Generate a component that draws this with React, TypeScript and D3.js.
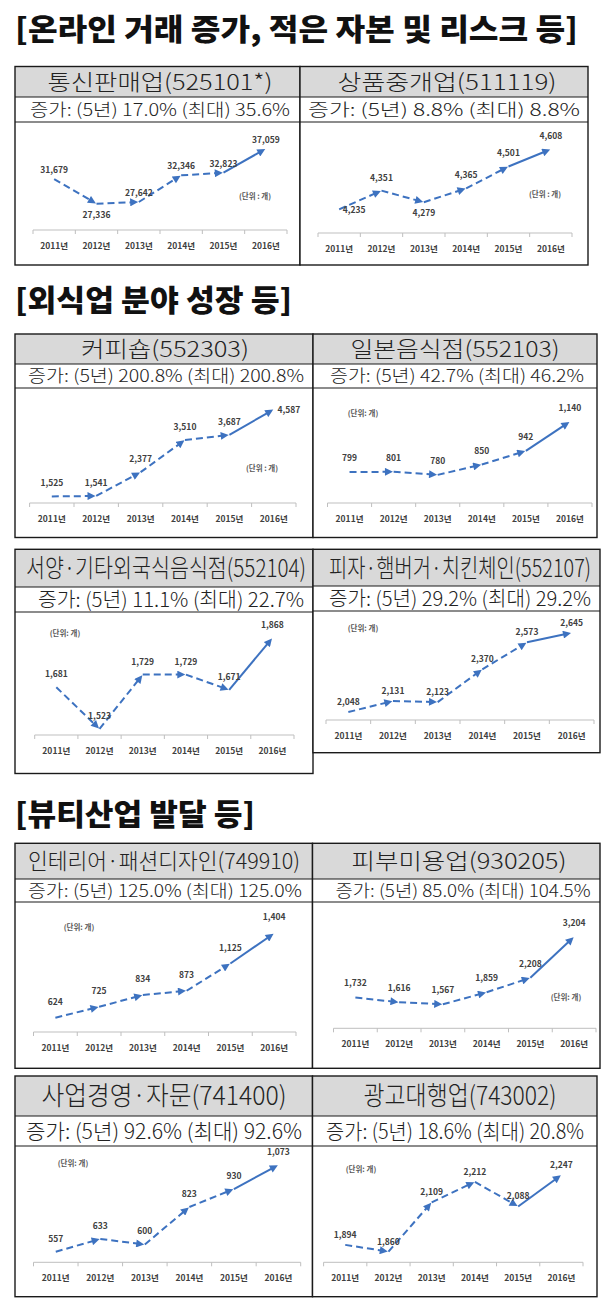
import * as d3 from "d3";

// 연도 (x축)
const years = ["2011년", "2012년", "2013년", "2014년", "2015년", "2016년"];

// 업종별 사업체 수 (단위: 개)
const mailOrder = [31679, 27336, 27642, 32346, 32823, 37059];
const brokerage = [4235, 4351, 4279, 4365, 4501, 4608];
const coffeeShop = [1525, 1541, 2377, 3510, 3687, 4587];
const japaneseFood = [799, 801, 780, 850, 942, 1140];
const westernFood = [1681, 1523, 1729, 1729, 1671, 1868];
const pizzaChain = [2048, 2131, 2123, 2370, 2573, 2645];
const interiorDesign = [624, 725, 834, 873, 1125, 1404];
const skinCare = [1732, 1616, 1567, 1859, 2208, 3204];
const consulting = [557, 633, 600, 823, 930, 1073];
const advertising = [1894, 1860, 2109, 2212, 2088, 2247];

const series = [
  mailOrder, brokerage, coffeeShop, japaneseFood, westernFood,
  pizzaChain, interiorDesign, skinCare, consulting, advertising,
];

const sectionTitles = [
  "[온라인 거래 증가, 적은 자본 및 리스크 등]",
  "[외식업 분야 성장 등]",
  "[뷰티산업 발달 등]",
];

const panelNames = [
  "통신판매업(525101*)", "상품중개업(511119)",
  "커피숍(552303)", "일본음식점(552103)",
  "서양·기타외국식음식점(552104)", "피자·햄버거·치킨체인(552107)",
  "인테리어·패션디자인(749910)", "피부미용업(930205)",
  "사업경영·자문(741400)", "광고대행업(743002)",
];

const growth5y = ["17.0%", "8.8%", "200.8%", "42.7%", "11.1%", "29.2%", "125.0%", "85.0%", "92.6%", "18.6%"];
const growthMax = ["35.6%", "8.8%", "200.8%", "46.2%", "22.7%", "29.2%", "125.0%", "104.5%", "92.6%", "20.8%"];

const unitLabels = [
  "(단위 : 개)", "(단위 : 개)", "(단위 : 개)", "(단위: 개)", "(단위: 개)",
  "(단위: 개)", "(단위: 개)", "(단위: 개)", "(단위: 개)", "(단위: 개)",
];

// y축 범위 (엑셀 차트 축 최소/최대 추정)
const yDomains = [
  [22700, 40000], [4088, 4715], [1294, 5089], [590, 1320], [1500, 1955],
  [1988, 2794], [492, 1601], [986, 3802], [494, 1168], [1806, 2378],
];

// 데이터 레이블 위치: T 위, B 아래, R 오른쪽
const labelSides = [
  ["T", "B", "T", "T", "T", "T"],
  ["R", "T", "B", "T", "T", "T"],
  ["T", "T", "T", "T", "T", "R"],
  ["T", "T", "T", "T", "T", "T"],
  ["T", "T", "T", "T", "T", "T"],
  ["T", "T", "T", "T", "T", "T"],
  ["T", "T", "T", "T", "T", "T"],
  ["T", "T", "T", "T", "T", "T"],
  ["T", "T", "T", "T", "T", "T"],
  ["T", "T", "T", "T", "T", "T"],
];

// 표 / 차트 배치 (sq: 제목 글자 가로 압축 비율)
const layout = [
  { x0: 15, x1: 300, top: 66.5, hb: 97, sb: 122, bottom: 265, ax0: 33, ax1: 287, axisY: 230, plotTop: 132, hFont: 22, sq: 0.85, hLen: 225, hCx: 160, sFont: 17, sLen: 260, sCx: 160, ux: 255, uy: 196, gap: 9 },
  { x0: 300, x1: 588, top: 66.5, hb: 97, sb: 122, bottom: 265, ax0: 318, ax1: 572, axisY: 233, plotTop: 132, hFont: 22, sq: 0.85, hLen: 219, hCx: 447, sFont: 17, sLen: 272, sCx: 444, ux: 545, uy: 194, gap: 13 },
  { x0: 15, x1: 313, top: 334, hb: 364, sb: 388, bottom: 537.5, ax0: 29.6, ax1: 296, axisY: 503, plotTop: 395, hFont: 22, sq: 0.85, hLen: 168, hCx: 165, sFont: 17, sLen: 276, sCx: 166, ux: 262, uy: 468, gap: 13 },
  { x0: 313, x1: 597, top: 334, hb: 364, sb: 388, bottom: 537.5, ax0: 327.5, ax1: 592, axisY: 503, plotTop: 395, hFont: 22, sq: 0.85, hLen: 209, hCx: 455, sFont: 17, sLen: 254, sCx: 457, ux: 363, uy: 413, gap: 14 },
  { x0: 15, x1: 313, top: 549.3, hb: 587, sb: 612, bottom: 773.5, ax0: 34.7, ax1: 294, axisY: 735, plotTop: 615, hFont: 25, sq: 0.74, hLen: 280, hCx: 166, sFont: 20, sLen: 266, sCx: 171, ux: 65, uy: 633, gap: 13 },
  { x0: 313, x1: 600, top: 549.3, hb: 586, sb: 611, bottom: 752.7, ax0: 326, ax1: 594, axisY: 720, plotTop: 613, hFont: 25, sq: 0.74, hLen: 262, hCx: 460, sFont: 20, sLen: 262, sCx: 460, ux: 363, uy: 628, gap: 10 },
  { x0: 15, x1: 312.5, top: 843.3, hb: 879, sb: 902, bottom: 1068.3, ax0: 33.5, ax1: 296, axisY: 1032, plotTop: 912, hFont: 22, sq: 0.8, hLen: 272, hCx: 164, sFont: 17, sLen: 274, sCx: 165, ux: 79, uy: 927, gap: 16 },
  { x0: 312.5, x1: 600, top: 843.3, hb: 879, sb: 902, bottom: 1068.3, ax0: 333.5, ax1: 596, axisY: 1028.3, plotTop: 912, hFont: 22, sq: 0.85, hLen: 215, hCx: 459, sFont: 17, sLen: 255, sCx: 463, ux: 566, uy: 997, gap: 14 },
  { x0: 15, x1: 312.5, top: 1076, hb: 1116, sb: 1146, bottom: 1296.7, ax0: 33.5, ax1: 300.7, axisY: 1262.3, plotTop: 1149, hFont: 26, sq: 0.85, hLen: 245, hCx: 164, sFont: 21, sLen: 276, sCx: 164, ux: 73, uy: 1163, gap: 13 },
  { x0: 312.5, x1: 597, top: 1076, hb: 1116, sb: 1146, bottom: 1296.7, ax0: 323.6, ax1: 583, axisY: 1262.3, plotTop: 1149, hFont: 26, sq: 0.85, hLen: 193, hCx: 460, sFont: 21, sLen: 258, sCx: 455, ux: 361, uy: 1169, gap: 10 },
];

const sectionLayout = [
  { y: 40, len: 563 },
  { y: 311, len: 277 },
  { y: 825, len: 240 },
];

const BLUE = "#3d72c0";
const FONT = "'Noto Sans CJK KR', 'Noto Sans', sans-serif";
const fmt = d3.format(",");
const SHORTEN = 6;

function Panel({ i }: { i: number }) {
  const L = layout[i];
  const values = series[i];
  const x = d3.scaleBand<string>().domain(years).range([L.ax0, L.ax1]);
  const y = d3.scaleLinear().domain(yDomains[i]).range([L.axisY, L.plotTop]);
  const pts = values.map((v, k) => [x(years[k])! + x.bandwidth() / 2, y(v)] as [number, number]);
  const ticks = d3.range(years.length + 1).map((k) => L.ax0 + k * x.step());

  const segs = pts.slice(1).map((p, k) => {
    const a = pts[k];
    const dx = p[0] - a[0];
    const dy = p[1] - a[1];
    const len = Math.hypot(dx, dy);
    const e: [number, number] = [p[0] - (dx / len) * SHORTEN, p[1] - (dy / len) * SHORTEN];
    return { a, e, last: k === pts.length - 2 };
  });

  const hBase = (L.top + L.hb) / 2 + L.hFont * 0.36;

  return (
    <g>
      <rect x={L.x0} y={L.top} width={L.x1 - L.x0} height={L.hb - L.top} fill="#d9d9d9" />
      <rect x={L.x0} y={L.hb} width={L.x1 - L.x0} height={L.bottom - L.hb} fill="#fff" />
      <rect x={L.x0} y={L.top} width={L.x1 - L.x0} height={L.bottom - L.top} fill="none" stroke="#1a1a1a" strokeWidth={1.4} />
      <line x1={L.x0} x2={L.x1} y1={L.hb} y2={L.hb} stroke="#1a1a1a" strokeWidth={1.2} />
      <line x1={L.x0} x2={L.x1} y1={L.sb} y2={L.sb} stroke="#1a1a1a" strokeWidth={1.2} />
      {/* 좁고 긴 글꼴 느낌: 작은 글자를 세로로 늘림 */}
      <text transform={`translate(${L.hCx},${hBase}) scale(1,${1 / L.sq})`} textAnchor="middle" fontSize={L.hFont * L.sq}
        textLength={L.hLen} lengthAdjust="spacingAndGlyphs" fill="#222" fontWeight={300}>{panelNames[i]}</text>
      <text x={L.sCx} y={(L.hb + L.sb) / 2 + L.sFont * 0.36} textAnchor="middle" fontSize={L.sFont}
        textLength={L.sLen} lengthAdjust="spacingAndGlyphs" fill="#222" fontWeight={300}>
        {`증가: (5년) ${growth5y[i]} (최대) ${growthMax[i]}`}
      </text>

      {/* x축 */}
      <line x1={L.ax0} x2={L.ax1} y1={L.axisY} y2={L.axisY} stroke="#bfbfbf" strokeWidth={1} />
      {ticks.map((t, k) => (
        <line key={k} x1={t} x2={t} y1={L.axisY} y2={L.axisY + 4} stroke="#bfbfbf" strokeWidth={1} />
      ))}
      {years.map((yr) => (
        <text key={yr} x={x(yr)! + x.bandwidth() / 2} y={L.axisY + 19} textAnchor="middle"
          fontSize={8.5} fontWeight={700} fill="#404040">{yr}</text>
      ))}

      {/* 선 */}
      {segs.map((s, k) => (
        <line key={k} x1={s.a[0]} y1={s.a[1]} x2={s.e[0]} y2={s.e[1]} stroke={BLUE} strokeWidth={2}
          strokeDasharray={s.last ? undefined : "7 4"} markerEnd="url(#arrow)" />
      ))}

      {/* 데이터 레이블 */}
      {values.map((v, k) => {
        const side = labelSides[i][k];
        const [px, py] = pts[k];
        let lx = px;
        let ly = py - L.gap + 3;
        if (side === "B") ly = py + 14;
        if (side === "R") { lx = px + 15; ly = py + 4; }
        return (
          <text key={k} x={lx} y={ly} textAnchor="middle" fontSize={8.5} fontWeight={700} fill="#404040">{fmt(v)}</text>
        );
      })}

      <text x={L.ux} y={L.uy + 3} textAnchor="middle" fontSize={7.5} fontWeight={600} fill="#595959">{unitLabels[i]}</text>
    </g>
  );
}

export default function App() {
  return (
    <svg width={610} height={1303} style={{ position: "absolute", left: 0, top: 0, background: "#fff" }} fontFamily={FONT}>
      <defs>
        <marker id="arrow" viewBox="0 0 10 10" refX={10 - SHORTEN * (10 / 9)} refY={5} markerWidth={9} markerHeight={8}
          markerUnits="userSpaceOnUse" orient="auto">
          <path d="M0,0 L10,5 L0,10 z" fill={BLUE} />
        </marker>
      </defs>
      <rect width={610} height={1303} fill="#fff" />
      {sectionTitles.map((t, k) => (
        <text key={k} x={15} y={sectionLayout[k].y} fontSize={30} fontWeight={900} fill="#111"
          textLength={sectionLayout[k].len} lengthAdjust="spacingAndGlyphs">{t}</text>
      ))}
      {layout.map((_, i) => <Panel key={i} i={i} />)}
    </svg>
  );
}
